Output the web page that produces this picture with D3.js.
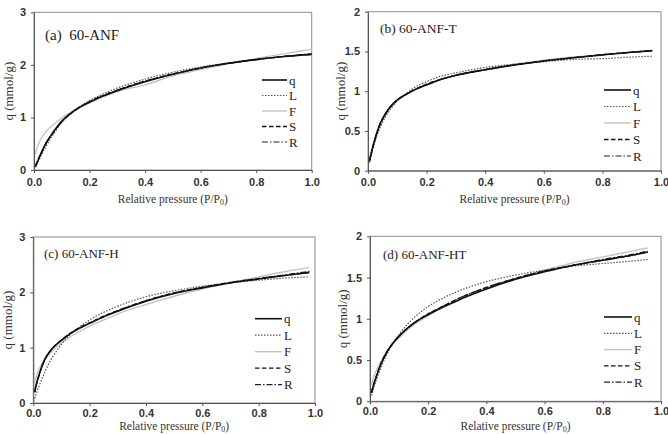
<!DOCTYPE html>
<html>
<head>
<meta charset="utf-8">
<script src="https://cdn.jsdelivr.net/npm/d3@7"></script>
<style>
  body { margin: 0; background: #fff; }
  svg { display: block; }
</style>
</head>
<body>
<div id="chart"></div>
<script>
// relative pressure sample points (each panel ends where its data ends)
const xA = [0.005,0.01,0.02,0.04,0.06,0.08,0.1,0.13,0.16,0.2,0.25,0.3,0.4,0.5,0.6,0.7,0.8,0.9,1.0];
const xB = [0.005,0.01,0.02,0.04,0.06,0.08,0.1,0.13,0.16,0.2,0.25,0.3,0.4,0.5,0.6,0.7,0.8,0.9,0.97];
const xC = [0.005,0.01,0.02,0.04,0.06,0.08,0.1,0.13,0.16,0.2,0.25,0.3,0.4,0.5,0.6,0.7,0.8,0.9,0.98];
const xD = [0.005,0.01,0.02,0.04,0.06,0.08,0.1,0.13,0.16,0.2,0.25,0.3,0.4,0.5,0.6,0.7,0.8,0.9,0.955];

// (a) 60-ANF
const aQ = [0.07,0.13,0.25,0.48,0.65,0.80,0.93,1.07,1.18,1.29,1.41,1.51,1.68,1.82,1.94,2.03,2.10,2.16,2.20];
const aL = [0.05,0.10,0.21,0.42,0.60,0.76,0.90,1.06,1.19,1.32,1.45,1.56,1.73,1.86,1.96,2.04,2.11,2.16,2.20];
const aF = [0.30,0.40,0.54,0.71,0.82,0.91,0.99,1.09,1.18,1.28,1.39,1.49,1.62,1.79,1.91,2.02,2.12,2.21,2.30];
const aS = [0.08,0.14,0.26,0.48,0.65,0.79,0.92,1.06,1.18,1.30,1.42,1.52,1.69,1.83,1.94,2.03,2.10,2.16,2.20];
const aR = [0.07,0.13,0.25,0.47,0.64,0.79,0.92,1.07,1.18,1.30,1.42,1.52,1.69,1.82,1.94,2.03,2.10,2.16,2.21];

// (b) 60-ANF-T
const bQ = [0.12,0.20,0.35,0.58,0.72,0.82,0.89,0.96,1.02,1.08,1.15,1.20,1.27,1.33,1.38,1.42,1.455,1.49,1.51];
const bL = [0.10,0.18,0.32,0.53,0.68,0.79,0.88,0.97,1.05,1.12,1.19,1.23,1.30,1.34,1.37,1.40,1.41,1.43,1.44];
const bF = [0.16,0.23,0.36,0.56,0.70,0.80,0.88,0.96,1.02,1.08,1.15,1.20,1.28,1.34,1.39,1.43,1.46,1.49,1.51];
const bS = [0.12,0.20,0.34,0.57,0.72,0.82,0.89,0.96,1.02,1.09,1.15,1.20,1.27,1.33,1.38,1.42,1.46,1.49,1.51];
const bR = [0.12,0.20,0.35,0.58,0.72,0.82,0.89,0.96,1.02,1.08,1.15,1.20,1.27,1.33,1.38,1.42,1.46,1.49,1.51];

// (c) 60-ANF-H
const cQ = [0.20,0.32,0.50,0.78,0.94,1.05,1.13,1.25,1.34,1.44,1.56,1.66,1.84,1.98,2.08,2.17,2.24,2.31,2.36];
const cL = [0.08,0.16,0.30,0.55,0.76,0.92,1.06,1.23,1.36,1.50,1.64,1.75,1.92,2.03,2.11,2.17,2.22,2.26,2.28];
const cF = [0.37,0.47,0.61,0.78,0.90,1.00,1.08,1.19,1.28,1.39,1.50,1.61,1.78,1.93,2.06,2.17,2.28,2.38,2.45];
const cS = [0.19,0.31,0.49,0.77,0.94,1.05,1.14,1.26,1.35,1.45,1.57,1.67,1.85,1.99,2.09,2.18,2.25,2.31,2.36];
const cR = [0.20,0.32,0.50,0.78,0.94,1.05,1.13,1.25,1.34,1.44,1.56,1.67,1.85,1.99,2.09,2.18,2.25,2.32,2.38];

// (d) 60-ANF-HT
const dQ = [0.10,0.17,0.28,0.47,0.61,0.71,0.79,0.89,0.97,1.05,1.14,1.22,1.36,1.48,1.57,1.65,1.71,1.77,1.81];
const dL = [0.07,0.13,0.24,0.43,0.58,0.71,0.81,0.94,1.04,1.15,1.25,1.33,1.45,1.53,1.59,1.64,1.67,1.70,1.72];
const dF = [0.20,0.27,0.36,0.50,0.61,0.70,0.77,0.87,0.95,1.04,1.14,1.23,1.37,1.49,1.59,1.68,1.75,1.82,1.86];
const dS = [0.11,0.18,0.29,0.48,0.61,0.71,0.79,0.89,0.97,1.06,1.15,1.24,1.38,1.49,1.58,1.65,1.71,1.77,1.81];
const dR = [0.10,0.17,0.28,0.47,0.61,0.71,0.79,0.89,0.97,1.06,1.15,1.24,1.38,1.49,1.58,1.65,1.72,1.78,1.82];

const seriesNames = ['q', 'L', 'F', 'S', 'R'];
const xTicks = [0, 0.2, 0.4, 0.6, 0.8, 1.0];
const yTicks3 = [0, 1, 2, 3];
const yTicks2 = [0, 0.5, 1, 1.5, 2];

const styles = {
  q: { stroke: '#111', width: 1.6, dash: null },
  L: { stroke: '#555', width: 1.2, dash: '1.5,1.5' },
  F: { stroke: '#c4c4c4', width: 1.4, dash: null },
  S: { stroke: '#111', width: 1.3, dash: '4.5,2.5' },
  R: { stroke: '#222', width: 1.2, dash: '6,2,1.5,2' }
};
const drawOrder = ['F', 'L', 'R', 'S', 'q'];

const panels = [
  { label: '(a)\u00a0 60-ANF', x: xA, ys: [aQ, aL, aF, aS, aR], yMax: 3, yTicks: yTicks3,
    box: [34, 311.7, 12.3, 170], lab: [45, 40, 15], leg: [262, 287, 80, 15.5], yTitleX: 8, xTitleY: 203, pad: 5 },
  { label: '(b) 60-ANF-T', x: xB, ys: [bQ, bL, bF, bS, bR], yMax: 2, yTicks: yTicks2,
    box: [368, 661, 11.7, 170.7], lab: [380, 33, 13.5], leg: [604, 631, 90, 16.5], yTitleX: 340, xTitleY: 203, pad: 5 },
  { label: '(c) 60-ANF-H', x: xC, ys: [cQ, cL, cF, cS, cR], yMax: 3, yTicks: yTicks3,
    box: [33.3, 315, 237, 403], lab: [44, 258, 13], leg: [255, 282, 318.7, 16.5], yTitleX: 7.5, xTitleY: 430, pad: 3 },
  { label: '(d) 60-ANF-HT', x: xD, ys: [dQ, dL, dF, dS, dR], yMax: 2, yTicks: yTicks2,
    box: [370, 661, 236.3, 401.3], lab: [383, 259, 13], leg: [604, 632, 317, 16.3], yTitleX: 342, xTitleY: 430, pad: 3 }
];

const svg = d3.select('#chart').append('svg')
    .attr('width', 668)
    .attr('height', 434);

const serif = '"Liberation Serif", "DejaVu Serif", serif';
const sans = '"Liberation Sans", Arial, sans-serif';

panels.forEach(p => {
  const [x0, x1, y0, y1] = p.box;
  const x = d3.scaleLinear().domain([0, 1]).range([x0, x1]);
  const y = d3.scaleLinear().domain([0, p.yMax]).range([y1, y0]);
  const g = svg.append('g');

  g.append('rect')
      .attr('x', x0).attr('y', y0)
      .attr('width', x1 - x0).attr('height', y1 - y0)
      .attr('fill', 'none')
      .attr('stroke', '#8c8c8c');

  const xAxis = g.append('g')
      .attr('transform', `translate(0,${y1})`)
      .call(d3.axisBottom(x).tickValues(xTicks).tickFormat(d3.format('.1f')).tickSize(3).tickSizeOuter(0).tickPadding(p.pad));
  const yAxis = g.append('g')
      .attr('transform', `translate(${x0},0)`)
      .call(d3.axisLeft(y).tickValues(p.yTicks).tickFormat(d => d).tickSize(3).tickSizeOuter(0).tickPadding(5));

  [xAxis, yAxis].forEach(a => {
    a.select('.domain').attr('stroke', '#555');
    a.selectAll('.tick line').attr('stroke', '#555');
    a.selectAll('.tick text')
        .attr('fill', '#333')
        .style('font', `bold 11px ${sans}`);
  });

  const line = d3.line()
      .x(d => x(d[0]))
      .y(d => y(d[1]))
      .curve(d3.curveMonotoneX);

  drawOrder.forEach(name => {
    const i = seriesNames.indexOf(name);
    const st = styles[name];
    g.append('path')
        .datum(p.x.map((v, k) => [v, p.ys[i][k]]))
        .attr('fill', 'none')
        .attr('stroke', st.stroke)
        .attr('stroke-width', st.width)
        .attr('stroke-dasharray', st.dash)
        .attr('d', line);
  });

  // panel label
  g.append('text')
      .attr('x', p.lab[0]).attr('y', p.lab[1])
      .style('font', `${p.lab[2]}px ${serif}`)
      .attr('fill', '#222')
      .text(p.label);

  // legend
  const [lx0, lx1, ly0, ldy] = p.leg;
  seriesNames.forEach((name, i) => {
    const st = styles[name];
    const yy = ly0 + i * ldy;
    g.append('line')
        .attr('x1', lx0).attr('x2', lx1)
        .attr('y1', yy).attr('y2', yy)
        .attr('stroke', st.stroke)
        .attr('stroke-width', st.width)
        .attr('stroke-dasharray', st.dash);
    g.append('text')
        .attr('x', lx1 + 2).attr('y', yy)
        .attr('dy', '0.35em')
        .style('font', `13px ${serif}`)
        .attr('fill', '#222')
        .text(name);
  });

  // axis titles
  g.append('text')
      .attr('transform', `translate(${p.yTitleX},${(y0 + y1) / 2}) rotate(-90)`)
      .attr('text-anchor', 'middle')
      .attr('dy', '0.35em')
      .style('font', `13px ${serif}`)
      .attr('fill', '#333')
      .text('q (mmol/g)');

  const xt = g.append('text')
      .attr('x', (x0 + x1) / 2).attr('y', p.xTitleY)
      .attr('text-anchor', 'middle')
      .style('font', `11.5px ${serif}`)
      .attr('fill', '#333')
      .text('Relative pressure (P/P');
  xt.append('tspan').attr('dy', 1.5).style('font-size', '8px').text('0');
  xt.append('tspan').attr('dy', -1.5).text(')');
});
</script>
</body>
</html>
